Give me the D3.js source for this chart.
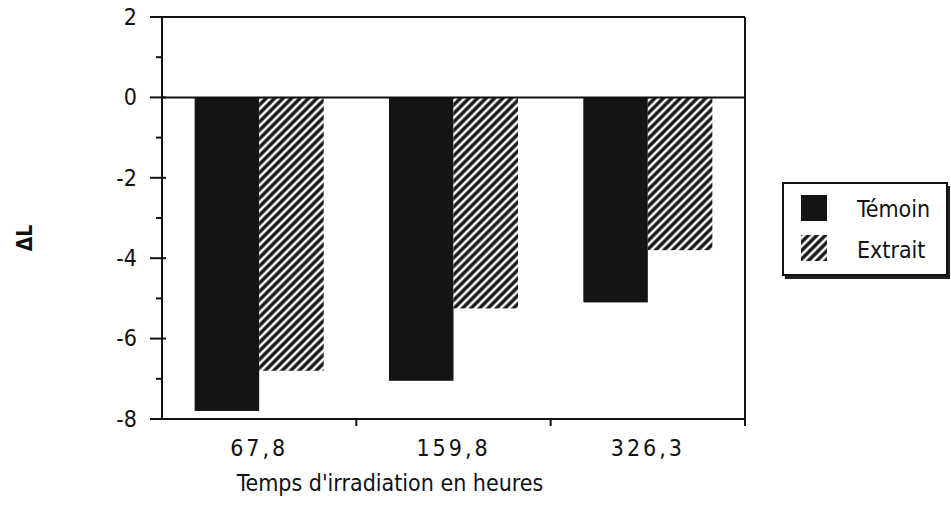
<!DOCTYPE html>
<html>
<head>
<meta charset="utf-8">
<script src="https://cdn.jsdelivr.net/npm/d3@7"></script>
<style>
  html, body { margin: 0; padding: 0; background: #fff; }
  svg { display: block; }
  text { font-family: "DejaVu Sans Condensed", "DejaVu Sans", Verdana, sans-serif; fill: #111; }
</style>
</head>
<body>
<svg id="chart" width="951" height="512"></svg>
<script>
const categories = ["67,8", "159,8", "326,3"];
const seriesNames = ["Témoin", "Extrait"];
const temoin = [-7.8, -7.05, -5.1];
const extrait = [-6.8, -5.25, -3.8];
const yTicks = [2, 0, -2, -4, -6, -8];
const yMinorTicks = [1, -1, -3, -5, -7];
const xTitle = "Temps d'irradiation en heures";
const yTitle = "ΔL";

const data = categories.map((c, i) => ({ cat: c, values: [temoin[i], extrait[i]] }));

const svg = d3.select("#chart");
const L = 162, R = 745, T = 17, B = 419;

const defs = svg.append("defs");
const pat = defs.append("pattern")
  .attr("id", "hatch")
  .attr("patternUnits", "userSpaceOnUse")
  .attr("width", 6).attr("height", 6)
  .attr("patternTransform", "rotate(45)");
pat.append("rect").attr("width", 6).attr("height", 6).attr("fill", "#121512");
pat.append("line").attr("x1", 3).attr("y1", 0).attr("x2", 3).attr("y2", 6)
  .attr("stroke", "#fff").attr("stroke-width", 2.6);

const x = d3.scaleBand().domain(categories).range([L, R])
  .paddingInner(0.336).paddingOuter(0.168);
const x1 = d3.scaleBand().domain(seriesNames).range([0, x.bandwidth()]).padding(0);
const y = d3.scaleLinear().domain([-8, 2]).range([B, T]);
const fills = { "Témoin": "#121512", "Extrait": "url(#hatch)" };

// bars
const g = svg.append("g");
const groups = g.selectAll("g.grp").data(data).join("g")
  .attr("transform", d => `translate(${x(d.cat)},0)`);
groups.selectAll("rect").data(d => d.values.map((v, i) => ({ key: seriesNames[i], v })))
  .join("rect")
  .attr("x", d => x1(d.key))
  .attr("width", x1.bandwidth())
  .attr("y", d => y(Math.max(0, d.v)))
  .attr("height", d => Math.abs(y(d.v) - y(0)))
  .attr("fill", d => fills[d.key]);

// frame
const axisStroke = "#111";
svg.append("line").attr("x1", L).attr("x2", R).attr("y1", T).attr("y2", T)
  .attr("stroke", axisStroke).attr("stroke-width", 2);
svg.append("line").attr("x1", R).attr("x2", R).attr("y1", T).attr("y2", B + 7)
  .attr("stroke", axisStroke).attr("stroke-width", 2);
svg.append("line").attr("x1", L).attr("x2", R).attr("y1", y(0)).attr("y2", y(0))
  .attr("stroke", axisStroke).attr("stroke-width", 2);

// y axis
const yAxis = d3.axisLeft(y).tickValues(yTicks).tickSize(0).tickPadding(25)
  .tickFormat(d => d3.format("d")(d).replace("−", "-"));
const gy = svg.append("g").attr("transform", `translate(${L},0)`).call(yAxis);
gy.select(".domain").remove();
gy.selectAll("text").style("font-size", "23px");
svg.append("line").attr("x1", L).attr("x2", L).attr("y1", T).attr("y2", B)
  .attr("stroke", axisStroke).attr("stroke-width", 2);
svg.selectAll("line.ymaj").data(yTicks).join("line").attr("class", "ymaj")
  .attr("x1", L - 12).attr("x2", L + 4)
  .attr("y1", d => y(d)).attr("y2", d => y(d))
  .attr("stroke", axisStroke).attr("stroke-width", 2);
svg.selectAll("line.ymin").data(yMinorTicks).join("line").attr("class", "ymin")
  .attr("x1", L - 6).attr("x2", L)
  .attr("y1", d => y(d)).attr("y2", d => y(d))
  .attr("stroke", axisStroke).attr("stroke-width", 2);

// x axis
const xAxis = d3.axisBottom(x).tickSize(0).tickPadding(21);
const gx = svg.append("g").attr("transform", `translate(0,${B})`).call(xAxis);
gx.select(".domain").remove();
gx.selectAll("text").style("font-size", "23px").style("letter-spacing", "3px");
svg.append("line").attr("x1", L - 12).attr("x2", R).attr("y1", B).attr("y2", B)
  .attr("stroke", axisStroke).attr("stroke-width", 2);
const step = x.step();
const bounds = categories.slice(1).map(c => x(c) - step * x.paddingInner() / 2);
svg.selectAll("line.xt").data(bounds).join("line").attr("class", "xt")
  .attr("x1", d => d).attr("x2", d => d).attr("y1", B).attr("y2", B + 7)
  .attr("stroke", axisStroke).attr("stroke-width", 2);

// titles
svg.append("text").attr("x", 390).attr("y", 491)
  .attr("text-anchor", "middle").style("font-size", "23px").text(xTitle);
svg.append("text").attr("transform", "translate(32,238) rotate(-90)")
  .attr("text-anchor", "middle").style("font-size", "21px").style("font-weight", "bold").text(yTitle);

// legend
const lg = svg.append("g");
lg.append("rect").attr("x", 785).attr("y", 186).attr("width", 165).attr("height", 93).attr("fill", "#222");
lg.append("rect").attr("x", 783).attr("y", 183).attr("width", 164).attr("height", 92)
  .attr("fill", "#fff").attr("stroke", "#111").attr("stroke-width", 2);
seriesNames.forEach((s, i) => {
  lg.append("rect").attr("x", 801).attr("y", 195 + i * 40).attr("width", 26).attr("height", 26)
    .attr("fill", fills[s]);
  lg.append("text").attr("x", 857).attr("y", 217 + i * 41).style("font-size", "23px").text(s);
});
</script>
</body>
</html>
